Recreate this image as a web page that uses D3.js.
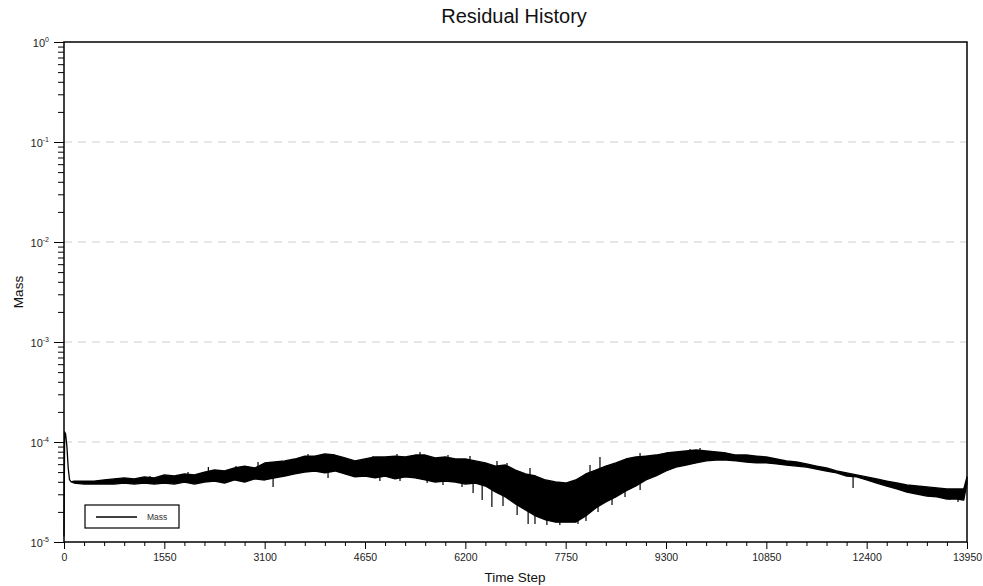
<!DOCTYPE html>
<html>
<head>
<meta charset="utf-8">
<script src="https://cdn.jsdelivr.net/npm/d3@7.9.0/dist/d3.min.js"></script>
<style>
  body { margin: 0; background: #fff; }
  svg { display: block; font-family: "Liberation Sans", Arial, sans-serif; }
</style>
</head>
<body>
<svg id="chart" width="983" height="586"></svg>
<script>
const steps = [0, 10, 25, 45, 65, 85, 110,
  155, 310, 465, 620, 775, 930, 1085, 1240, 1395, 1550,
  1705, 1860, 2015, 2170, 2325, 2480, 2635, 2790, 2945, 3100,
  3255, 3410, 3565, 3720, 3875, 4030, 4185, 4340, 4495, 4650,
  4805, 4960, 5115, 5270, 5425, 5580, 5735, 5890, 6045, 6200,
  6355, 6510, 6665, 6820, 6975, 7130, 7285, 7440, 7595, 7750,
  7905, 8060, 8215, 8370, 8525, 8680, 8835, 8990, 9145, 9300,
  9455, 9610, 9765, 9920, 10075, 10230, 10385, 10540, 10695, 10850,
  11005, 11160, 11315, 11470, 11625, 11780, 11935, 12090, 12245, 12400,
  12555, 12710, 12865, 13020, 13175, 13330, 13485, 13640, 13795,
  13900, 13950];

// upper edge of the oscillating mass residual
const massHi = [1.15e-5, 1.26e-4, 1.20e-4, 9.0e-5, 5.5e-5, 4.2e-5, 4.0e-5,
  4.07e-5, 4.07e-5, 4.07e-5, 4.17e-5, 4.27e-5, 4.37e-5, 4.27e-5, 4.47e-5, 4.37e-5, 4.68e-5,
  4.57e-5, 4.79e-5, 4.68e-5, 5.01e-5, 5.25e-5, 5.13e-5, 5.50e-5, 5.75e-5, 5.50e-5, 6.17e-5,
  6.31e-5, 6.46e-5, 6.76e-5, 7.24e-5, 7.24e-5, 7.59e-5, 7.41e-5, 6.92e-5, 6.46e-5, 6.76e-5,
  7.08e-5, 7.08e-5, 7.24e-5, 7.08e-5, 7.41e-5, 7.41e-5, 6.92e-5, 7.08e-5, 6.76e-5, 6.76e-5,
  6.46e-5, 6.17e-5, 5.75e-5, 5.89e-5, 5.25e-5, 4.79e-5, 4.57e-5, 4.17e-5, 3.98e-5, 3.89e-5,
  4.17e-5, 4.79e-5, 5.25e-5, 5.75e-5, 6.17e-5, 6.76e-5, 7.08e-5, 7.24e-5, 7.41e-5, 7.76e-5,
  7.94e-5, 8.13e-5, 8.32e-5, 8.13e-5, 7.94e-5, 7.76e-5, 7.41e-5, 7.41e-5, 7.24e-5, 7.08e-5,
  6.76e-5, 6.46e-5, 6.31e-5, 6.03e-5, 5.75e-5, 5.50e-5, 5.13e-5, 4.90e-5, 4.68e-5, 4.47e-5,
  4.27e-5, 4.07e-5, 3.89e-5, 3.72e-5, 3.63e-5, 3.55e-5, 3.47e-5, 3.39e-5, 3.39e-5,
  3.39e-5, 4.47e-5];

// lower edge
const massLo = [1.15e-5, 1.26e-4, 1.20e-4, 9.0e-5, 5.5e-5, 4.2e-5, 4.0e-5,
  3.89e-5, 3.80e-5, 3.80e-5, 3.80e-5, 3.80e-5, 3.89e-5, 3.80e-5, 3.89e-5, 3.80e-5, 3.89e-5,
  3.80e-5, 3.98e-5, 3.80e-5, 3.98e-5, 4.07e-5, 3.89e-5, 4.17e-5, 3.98e-5, 4.27e-5, 4.17e-5,
  4.37e-5, 4.57e-5, 4.79e-5, 5.01e-5, 5.13e-5, 4.90e-5, 5.13e-5, 4.79e-5, 4.47e-5, 4.57e-5,
  4.37e-5, 4.57e-5, 4.27e-5, 4.47e-5, 4.37e-5, 4.17e-5, 3.98e-5, 4.07e-5, 3.98e-5, 3.80e-5,
  3.89e-5, 3.63e-5, 3.16e-5, 2.82e-5, 2.40e-5, 2.09e-5, 1.82e-5, 1.66e-5, 1.58e-5, 1.58e-5,
  1.58e-5, 1.82e-5, 2.19e-5, 2.51e-5, 2.82e-5, 3.24e-5, 3.63e-5, 4.17e-5, 4.57e-5, 5.13e-5,
  5.62e-5, 5.89e-5, 6.17e-5, 6.46e-5, 6.61e-5, 6.61e-5, 6.46e-5, 6.31e-5, 6.17e-5, 6.17e-5,
  6.03e-5, 5.89e-5, 5.75e-5, 5.62e-5, 5.37e-5, 5.13e-5, 4.90e-5, 4.57e-5, 4.47e-5, 4.17e-5,
  3.89e-5, 3.63e-5, 3.39e-5, 3.16e-5, 3.02e-5, 2.88e-5, 2.82e-5, 2.69e-5, 2.69e-5,
  2.63e-5, 3.89e-5];

// single excursions sticking out of the band
const spikeSteps = [1329, 1916, 2230, 2657, 2997, 3230, 3770, 4079, 4774, 4880,
  5144, 5191, 5500, 5610, 5855, 5932, 6149, 6272, 6320, 6460,
  6610, 6689, 6782, 6844, 7000, 7170, 7199, 7276, 7460, 7660,
  7940, 8064, 8126, 8250, 8280, 8466, 8667, 8899, 8900, 9671,
  9826, 12190, 13688, 13811];
const spikeMass = [4.57e-5, 5.01e-5, 5.62e-5, 5.75e-5, 6.31e-5, 3.55e-5, 7.59e-5, 4.37e-5, 7.24e-5, 4.07e-5,
  7.59e-5, 4.07e-5, 7.94e-5, 3.89e-5, 3.72e-5, 7.41e-5, 3.55e-5, 7.24e-5, 3.09e-5, 2.63e-5,
  2.24e-5, 6.46e-5, 2.29e-5, 6.17e-5, 1.86e-5, 1.51e-5, 5.50e-5, 1.51e-5, 1.48e-5, 1.48e-5,
  1.51e-5, 1.62e-5, 5.89e-5, 2.00e-5, 7.08e-5, 2.34e-5, 2.82e-5, 7.76e-5, 3.31e-5, 8.51e-5,
  8.71e-5, 3.47e-5, 2.63e-5, 2.51e-5];

const xTicks = [0, 1550, 3100, 4650, 6200, 7750, 9300, 10850, 12400, 13950];
const yExps = [0, -1, -2, -3, -4, -5];
const gridExps = [-1, -2, -3, -4];

const svg = d3.select('#chart');
const plotL = 64, plotR = 967, plotT = 42, plotB = 542;

const x = d3.scaleLinear().domain([0, 13950]).range([plotL, plotR]);
const y = d3.scaleLog().domain([1e-5, 1]).range([plotB, plotT]);

// title
svg.append('text')
  .attr('x', 514).attr('y', 23)
  .attr('text-anchor', 'middle')
  .attr('font-size', 20)
  .attr('fill', '#111')
  .text('Residual History');

// grid lines
svg.append('g').selectAll('line')
  .data(gridExps)
  .join('line')
  .attr('x1', plotL).attr('x2', plotR)
  .attr('y1', d => y(Math.pow(10, d))).attr('y2', d => y(Math.pow(10, d)))
  .attr('stroke', '#cfcfcf')
  .attr('stroke-width', 1)
  .attr('stroke-dasharray', '8,6');

// band
let data = steps.map((s, i) => ({ s: s, hi: massHi[i], lo: massLo[i] }));
let area = d3.area()
  .x(d => x(d.s))
  .y0(d => y(d.lo))
  .y1(d => y(d.hi));

svg.append('path')
  .datum(data)
  .attr('d', area)
  .attr('fill', '#000')
  .attr('stroke', '#000')
  .attr('stroke-width', 1.3)
  .attr('stroke-linejoin', 'round');

// spikes, from band middle to the spike value
let bis = d3.bisector(d => d.s).left;
svg.append('g').selectAll('line')
  .data(spikeSteps.map((s, i) => ({ s: s, v: spikeMass[i] })))
  .join('line')
  .attr('x1', d => x(d.s)).attr('x2', d => x(d.s))
  .attr('y1', d => {
    let p = data[Math.min(bis(data, d.s), data.length - 1)];
    return y(Math.sqrt(p.hi * p.lo));
  })
  .attr('y2', d => y(d.v))
  .attr('stroke', '#000')
  .attr('stroke-width', 1.2);

// x axis
let xMinor = d3.range(0, 13951, 310).filter(v => v % 1550 !== 0);
svg.append('g')
  .attr('transform', `translate(0,${plotB})`)
  .call(d3.axisBottom(x).tickValues(xMinor).tickSize(4).tickSizeOuter(0).tickFormat(''))
  .call(g => g.select('.domain').remove());

svg.append('g')
  .attr('transform', `translate(0,${plotB})`)
  .call(d3.axisBottom(x).tickValues(xTicks).tickSize(7).tickSizeOuter(0).tickPadding(5).tickFormat(d3.format('d')))
  .call(g => g.select('.domain').remove())
  .call(g => g.selectAll('text').attr('font-size', 10.5).attr('fill', '#222').attr('font-family', null));

// y axis
let yMinor = [];
for (let e = -5; e < 0; e++) {
  for (let m = 2; m <= 9; m++) yMinor.push(m * Math.pow(10, e));
}
svg.append('g')
  .attr('transform', `translate(${plotL},0)`)
  .call(d3.axisLeft(y).tickValues(yMinor).tickSize(6).tickSizeOuter(0).tickFormat(''))
  .call(g => g.select('.domain').remove());

let yAxis = svg.append('g')
  .attr('transform', `translate(${plotL},0)`)
  .call(d3.axisLeft(y).tickValues(yExps.map(e => Math.pow(10, e))).tickSize(10).tickSizeOuter(0).tickFormat(''))
  .call(g => g.select('.domain').remove());

yAxis.selectAll('.tick').each(function (d) {
  let t = d3.select(this).append('text')
    .attr('x', -15).attr('y', 4)
    .attr('text-anchor', 'end')
    .attr('fill', '#222')
    .attr('font-family', null);
  t.append('tspan').attr('font-size', 11).text('10');
  t.append('tspan').attr('font-size', 7).attr('dy', -5).text(Math.round(Math.log10(d)));
});

// frame
svg.append('rect')
  .attr('x', plotL).attr('y', plotT)
  .attr('width', plotR - plotL).attr('height', plotB - plotT)
  .attr('fill', 'none')
  .attr('stroke', '#000')
  .attr('stroke-width', 1.5);

// axis titles
svg.append('text')
  .attr('x', 515).attr('y', 582)
  .attr('text-anchor', 'middle')
  .attr('font-size', 13.5)
  .attr('fill', '#111')
  .text('Time Step');

svg.append('text')
  .attr('transform', 'translate(23,292) rotate(-90)')
  .attr('text-anchor', 'middle')
  .attr('font-size', 13.5)
  .attr('fill', '#111')
  .text('Mass');

// legend
let legend = svg.append('g').attr('transform', 'translate(85,505)');
legend.append('rect')
  .attr('width', 94).attr('height', 23)
  .attr('fill', '#fff')
  .attr('stroke', '#000')
  .attr('stroke-width', 1.2);
legend.append('line')
  .attr('x1', 11).attr('x2', 52)
  .attr('y1', 12).attr('y2', 12)
  .attr('stroke', '#000')
  .attr('stroke-width', 1.3);
legend.append('text')
  .attr('x', 62).attr('y', 15)
  .attr('font-size', 8.5)
  .attr('fill', '#333')
  .text('Mass');
</script>
</body>
</html>
